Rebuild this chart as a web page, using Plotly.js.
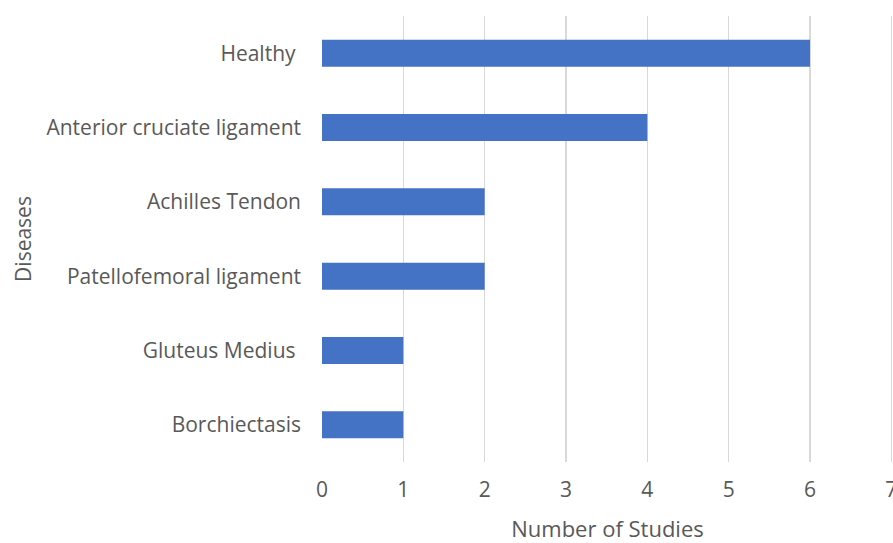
<!DOCTYPE html>
<html>
<head>
<meta charset="utf-8">
<script src="https://cdn.plot.ly/plotly-3.0.1.min.js"></script>
<style>html,body{margin:0;padding:0;background:#fff;}#chart{width:893px;height:543px;}</style>
</head>
<body>
<div id="chart"></div>
<script>
const categories = ["Healthy\u00a0", "Anterior cruciate ligament", "Achilles Tendon", "Patellofemoral ligament", "Gluteus Medius\u00a0", "Borchiectasis"];
const studies = [6, 4, 2, 2, 1, 1];
const xTicks = [0, 1, 2, 3, 4, 5, 6, 7];

const font = "'Open Sans', sans-serif";
const textColor = "#595959";

Plotly.newPlot("chart", [{
  type: "bar",
  orientation: "h",
  y: categories,
  x: studies,
  marker: {color: "#4472C4", line: {width: 0}},
  hoverinfo: "skip"
}], {
  width: 893, height: 543,
  margin: {l: 322, r: 0, t: 16, b: 81},
  paper_bgcolor: "#fff", plot_bgcolor: "#fff",
  bargap: 0.637,
  showlegend: false,
  font: {family: font, size: 21, color: textColor},
  xaxis: {
    range: [0, 7.02], tickvals: xTicks, showgrid: true, gridcolor: "#d9d9d9", gridwidth: 1.5,
    zeroline: false, showline: false, ticks: "", ticklabelstandoff: 13,
    ticklabeloverflow: "allow",
    tickfont: {family: font, size: 21, color: textColor},
    title: {text: "Number of Studies", font: {family: font, size: 22, color: textColor}, standoff: 23}
  },
  yaxis: {
    autorange: "reversed", showgrid: false, zeroline: false, showline: false, ticks: "",
    ticklabelstandoff: 20,
    tickfont: {family: font, size: 21, color: textColor},
    title: {text: "Diseases", font: {family: font, size: 21, color: textColor}, standoff: 9}
  }
}, {displayModeBar: false, staticPlot: true});
</script>
</body>
</html>
